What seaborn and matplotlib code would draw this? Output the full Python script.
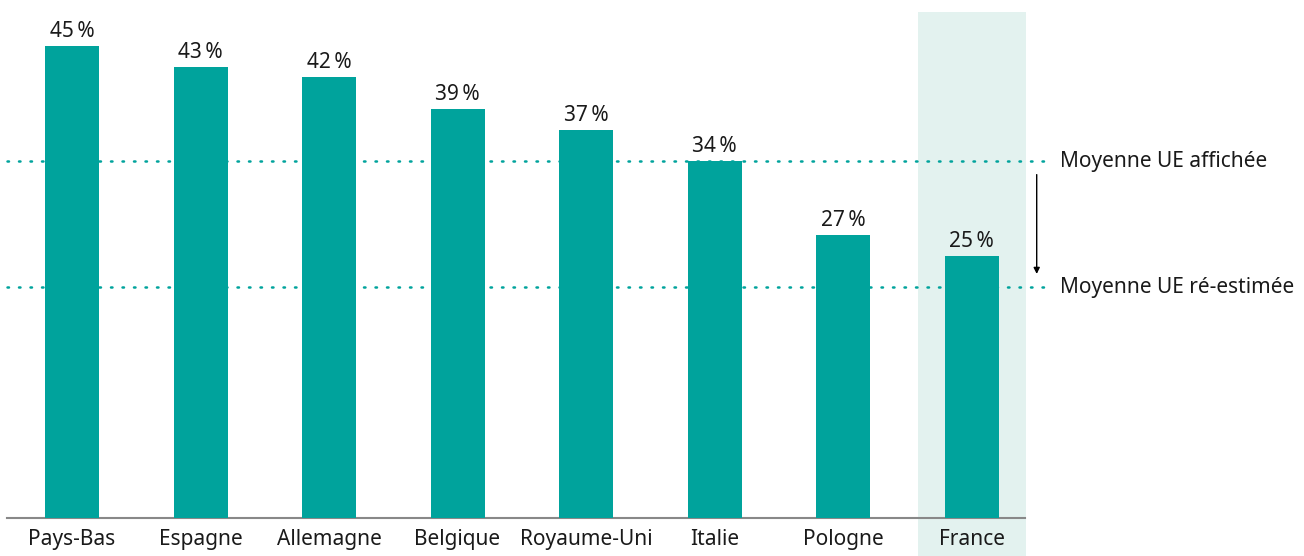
import numpy as np
import pandas as pd
import matplotlib
matplotlib.use("Agg")
import matplotlib.pyplot as plt
import matplotlib.transforms as mtransforms
import seaborn as sns

pays = ["Pays-Bas", "Espagne", "Allemagne", "Belgique", "Royaume-Uni", "Italie", "Pologne", "France"]
valeurs = [45, 43, 42, 39, 37, 34, 27, 25]
moyenne_affichee = 34
moyenne_reestimee = 22
lignes_labels = ["Moyenne UE affichée", "Moyenne UE ré-estimée"]

TEAL = "#00A39C"
BAND = "#E3F2EF"

sns.set_style("white")
plt.rcParams["font.family"] = ["Noto Sans", "DejaVu Sans"]

df = pd.DataFrame({"pays": pays, "valeur": valeurs})

fig = plt.figure(figsize=(13.04, 5.56), dpi=100)
ax = fig.add_axes([7 / 1304, 38 / 556, 1018 / 1304, 514 / 556])

# bande de mise en avant (France)
ax.axvspan(6.58, 7.42, ymin=-0.075, ymax=0.984, color=BAND, lw=0, zorder=0, clip_on=False)

sns.barplot(data=df, x="pays", y="valeur", color=TEAL, width=0.42, saturation=1,
            linewidth=0, ax=ax, zorder=3)
ax.bar_label(ax.containers[0], labels=[f"{v}\u202f%" for v in valeurs], padding=3,
             fontsize=15, color="#1a1a1a")

ax.set_xlim(-0.506, 7.416)
ax.set_ylim(0, 49)

# lignes de moyenne (débordent à droite)
trans = mtransforms.blended_transform_factory(ax.transAxes, ax.transData)
for yv, lab in zip([moyenne_affichee, moyenne_reestimee], lignes_labels):
    ax.plot([0, 1.025], [yv, yv], transform=trans, color=TEAL, lw=1.8,
            linestyle=(0, (0.6, 4.0)), dash_capstyle="round", clip_on=False, zorder=2)
    ax.text(1.034, yv, lab, transform=trans, va="center", ha="left", fontsize=15, color="#1a1a1a")

ax.annotate("", xy=(1.0115, moyenne_reestimee + 1), xytext=(1.0115, moyenne_affichee - 1),
            xycoords=trans, textcoords=trans,
            arrowprops=dict(arrowstyle="-|>", color="black", lw=1, mutation_scale=9),
            annotation_clip=False)

sns.despine(ax=ax, left=True)
ax.spines["bottom"].set_color("#888888")
ax.spines["bottom"].set_linewidth(1.5)
ax.set_yticks([])
ax.set_xlabel("")
ax.set_ylabel("")
ax.tick_params(axis="x", length=0, labelsize=15, pad=8, colors="#1a1a1a")
ax.patch.set_alpha(0)

fig.savefig("out.png", dpi=100)
